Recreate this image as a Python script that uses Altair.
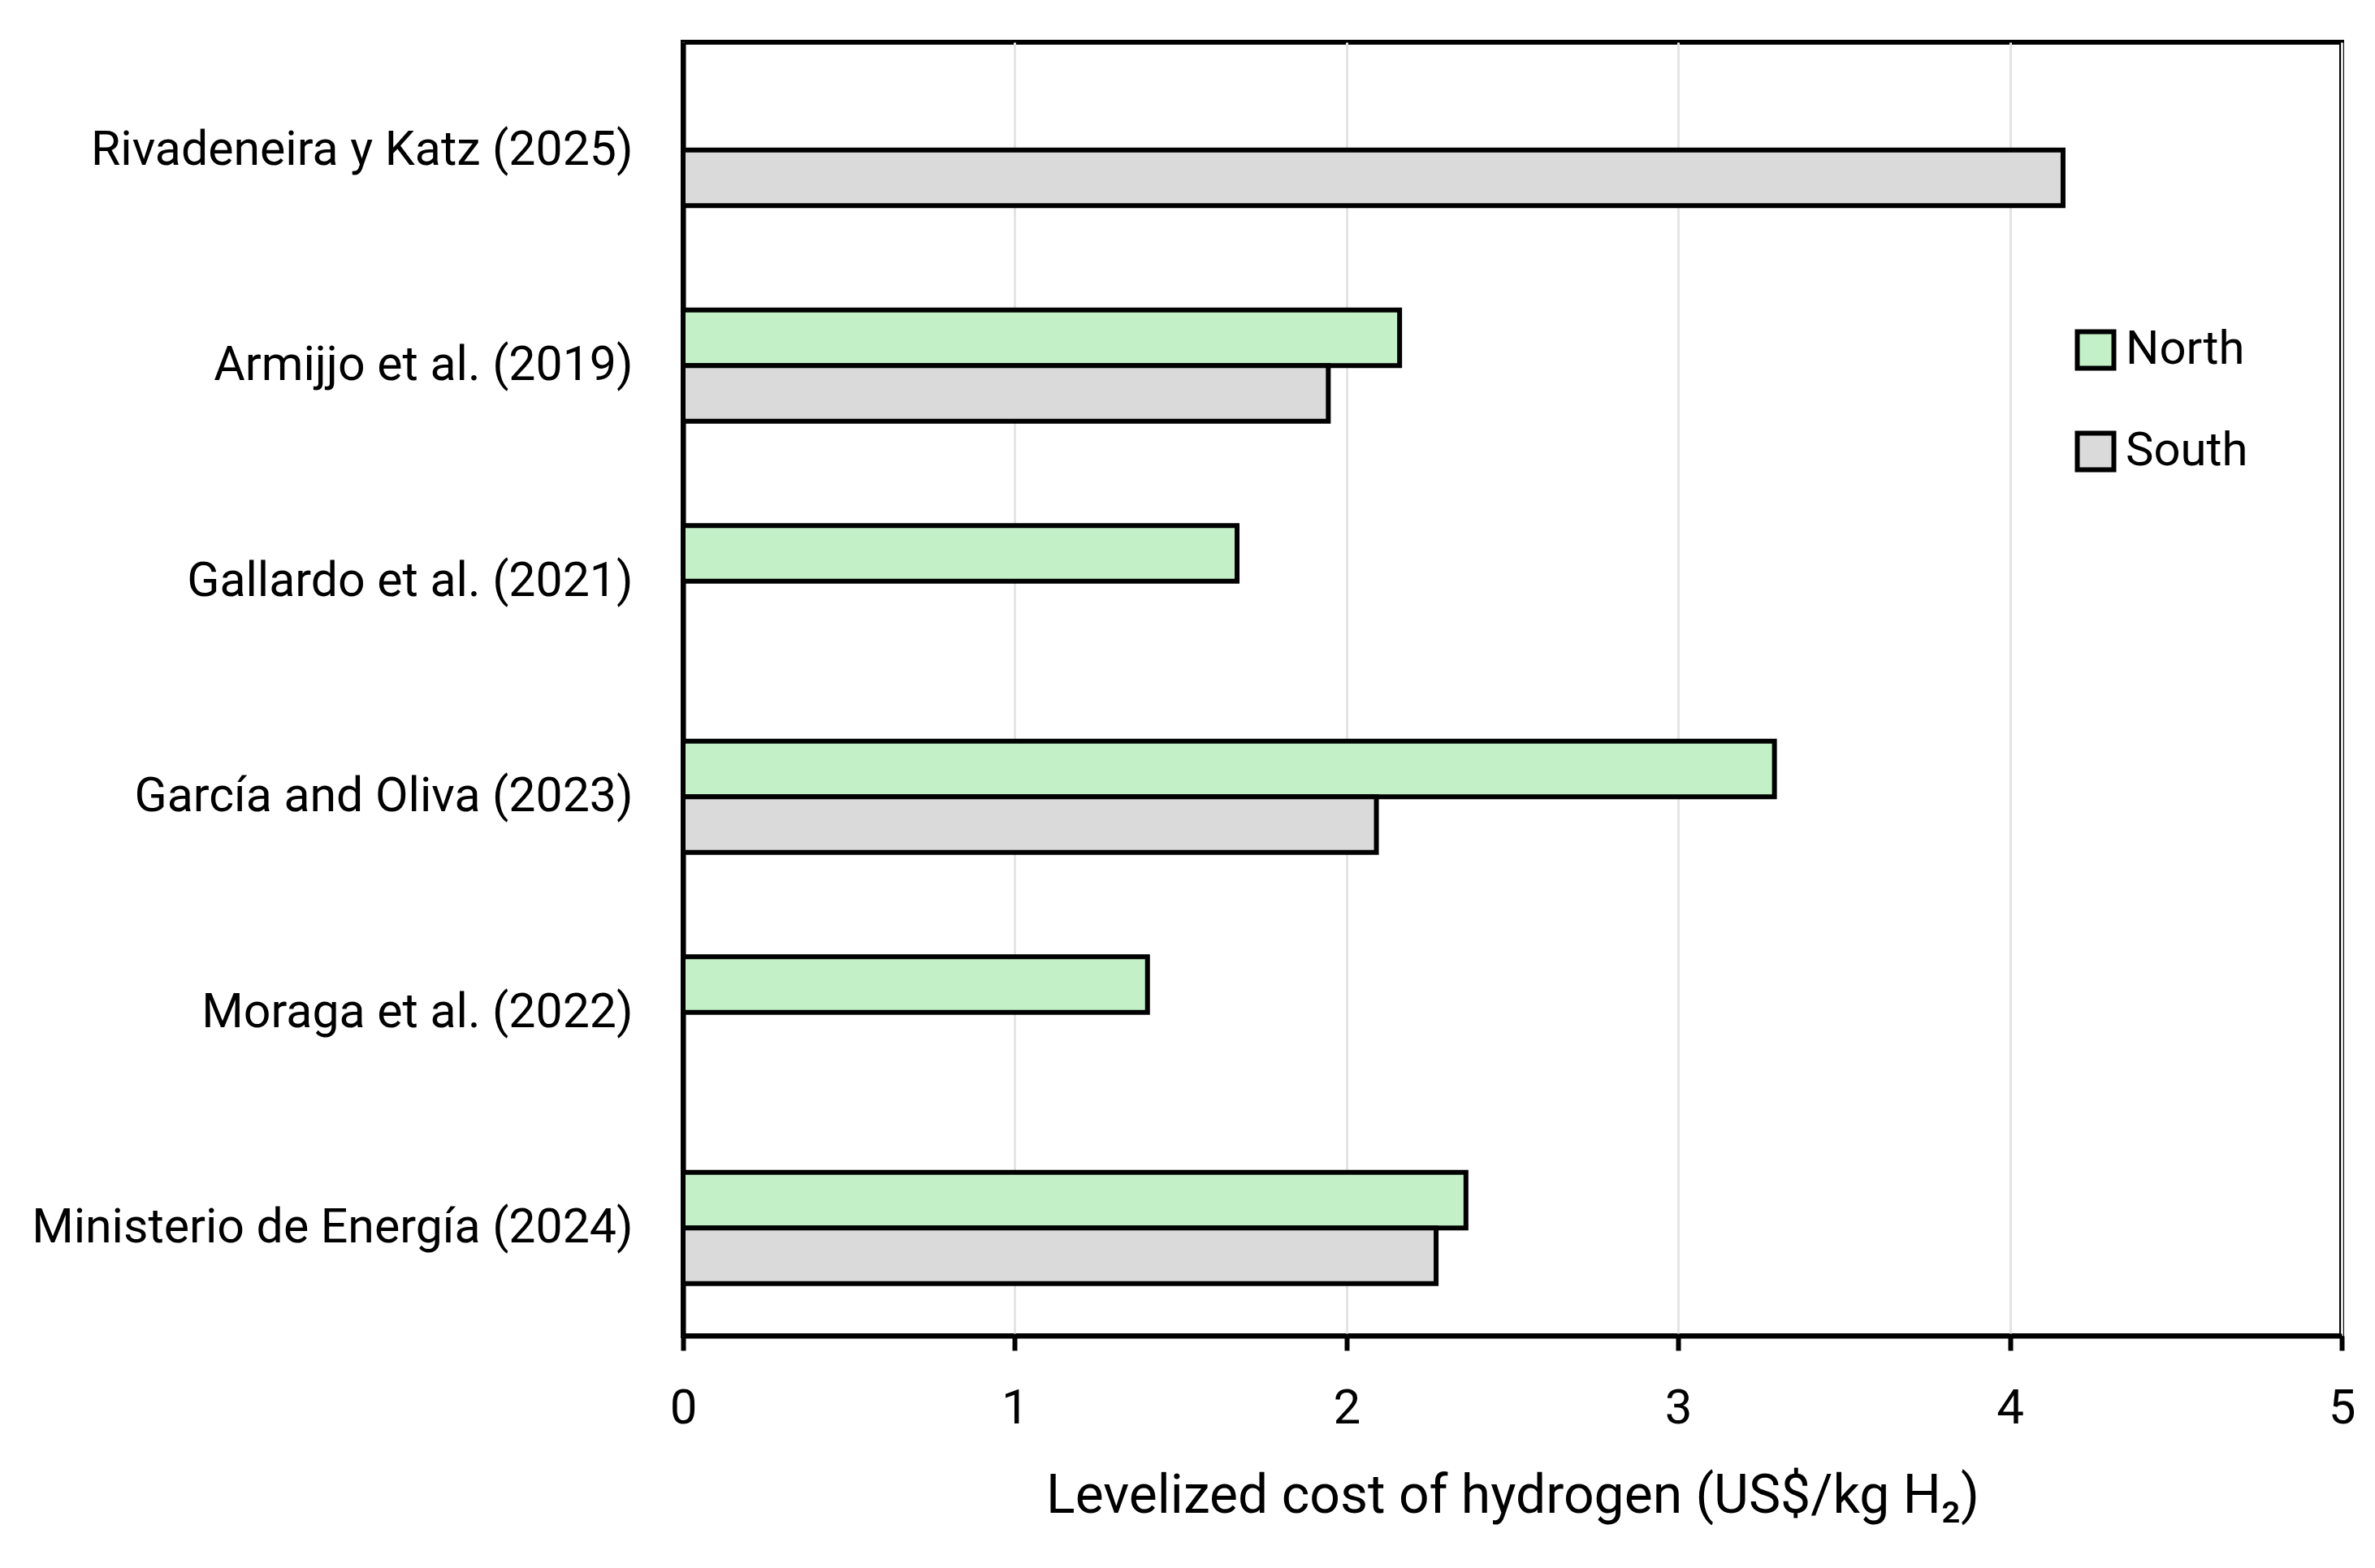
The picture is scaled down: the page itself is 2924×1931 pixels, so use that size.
import altair as alt
import pandas as pd

studies = [
    "Rivadeneira y Katz (2025)",
    "Armijjo et al. (2019)",
    "Gallardo et al. (2021)",
    "García and Oliva (2023)",
    "Moraga et al. (2022)",
    "Ministerio de Energía (2024)",
]
north = [None, 2.16, 1.67, 3.29, 1.40, 2.36]
south = [4.16, 1.945, None, 2.09, None, 2.27]
regions = ["North", "South"]
colors = ["#c4f0c8", "#dadada"]
x_ticks = [0, 1, 2, 3, 4, 5]

rows = []
for s, n, so in zip(studies, north, south):
    if n is not None:
        rows.append({"study": s, "region": "North", "value": n})
    if so is not None:
        rows.append({"study": s, "region": "South", "value": so})
df = pd.DataFrame(rows)

FONT = "Roboto"

chart = alt.Chart(df).mark_bar(stroke="black", strokeWidth=6).encode(
    x=alt.X(
        "value:Q",
        scale=alt.Scale(domain=[0, 5], nice=False),
        axis=alt.Axis(
            values=x_ticks,
            title="Levelized cost of hydrogen (US$/kg H₂)",
            titleFont=FONT,
            titleFontSize=66,
            titleFontWeight="normal",
            titleColor="black",
            titlePadding=46,
            labelFont=FONT,
            labelFontSize=60,
            labelColor="black",
            labelPadding=42,
            labelFlush=False,
            tickSize=18,
            tickWidth=6,
            tickColor="black",
            domainColor="black",
            domainWidth=6,
            grid=True,
            gridColor="#e4e4e4",
            gridWidth=3,
        ),
    ),
    y=alt.Y(
        "study:N",
        sort=studies,
        scale=alt.Scale(paddingInner=0.484, paddingOuter=0.242),
        axis=alt.Axis(
            title=None,
            labelFont=FONT,
            labelFontSize=59,
            labelColor="black",
            labelPadding=62,
            ticks=False,
            domainColor="black",
            domainWidth=6,
            grid=False,
            labelLimit=0,
        ),
    ),
    yOffset=alt.YOffset(
        "region:N",
        sort=regions,
        scale=alt.Scale(domain=regions, paddingInner=0, paddingOuter=0),
    ),
    color=alt.Color(
        "region:N",
        scale=alt.Scale(domain=regions, range=colors),
        legend=alt.Legend(
            title=None,
            orient="none",
            legendX=1710,
            legendY=350,
            symbolType="square",
            symbolSize=2025,
            symbolStrokeColor="black",
            symbolStrokeWidth=6,
            symbolOpacity=1,
            labelFont=FONT,
            labelFontSize=58,
            labelColor="black",
            labelOffset=8,
            rowPadding=55,
        ),
    ),
).properties(
    width=2042,
    height=1593,
    autosize=alt.AutoSizeParams(type="none"),
    padding={"left": 833, "top": 44, "right": 30, "bottom": 270},
    background="white",
).configure_view(
    stroke="black", strokeWidth=6
)

chart.save("out.html", embed_options={"renderer": "svg", "actions": False})
